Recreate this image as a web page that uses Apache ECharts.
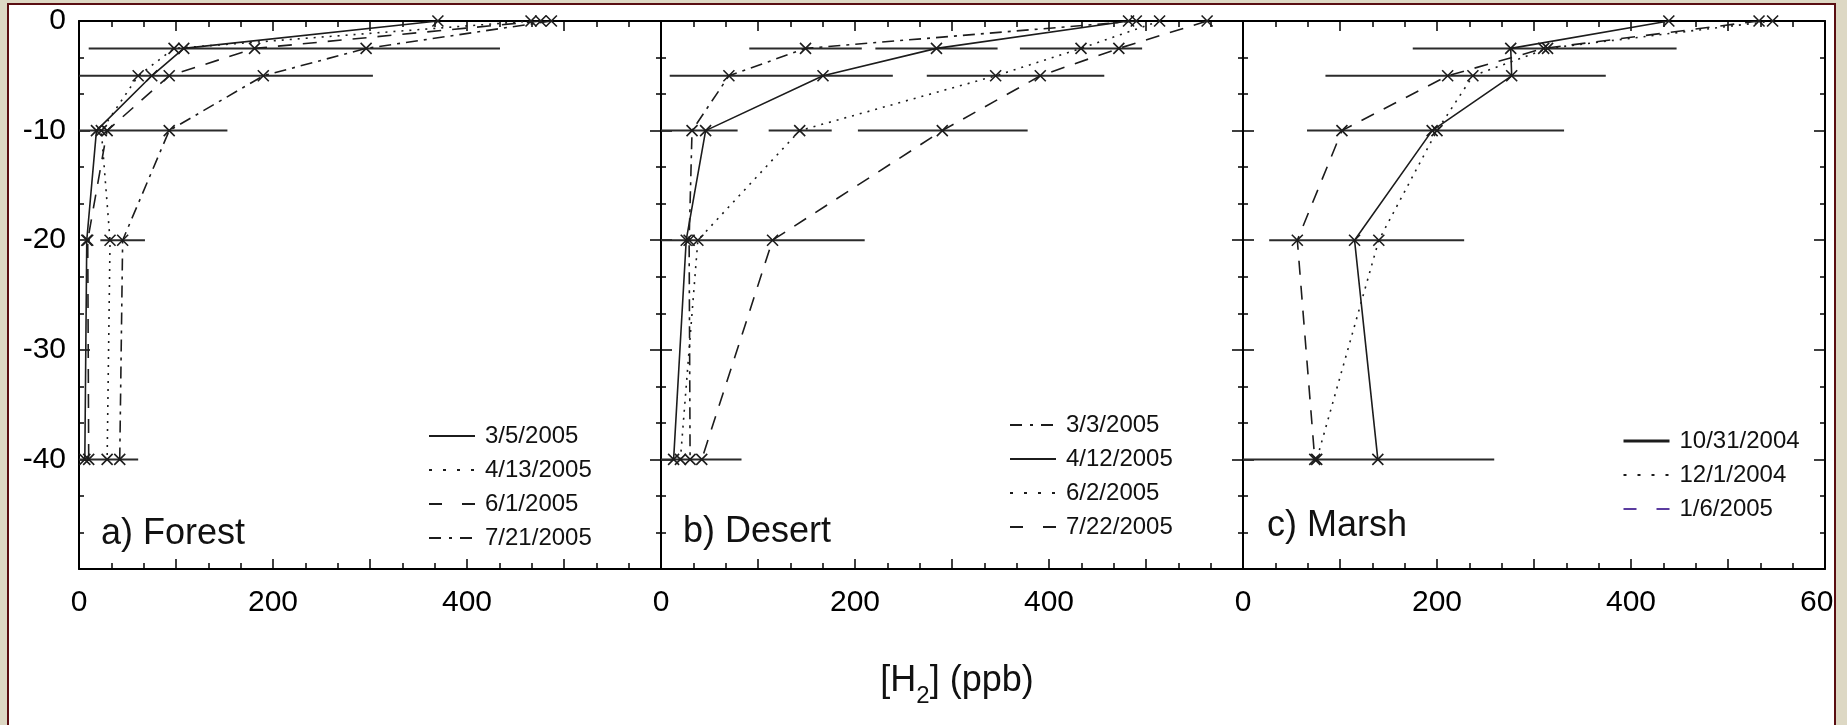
<!DOCTYPE html>
<html>
<head>
<meta charset="utf-8">
<script src="https://cdn.jsdelivr.net/npm/echarts@6/dist/echarts.min.js"></script>
<style>
  html, body { margin: 0; padding: 0; width: 1847px; height: 725px; overflow: hidden; background: #ddd8c4; }
  #paper { position: absolute; left: 7px; top: 3px; width: 1825px; height: 730px; background: #fff;
           border: 2px solid #5a0e12; border-bottom: none; overflow: hidden; }
  #chart { position: absolute; left: -9px; top: -5px; width: 1847px; height: 725px; }
</style>
</head>
<body>
<div id="paper"><div id="chart"></div></div>
<script>
// depth below surface (cm), shared by every profile
const depths = [0, -2.5, -5, -10, -20, -40];

// a) Forest
const forestDates = ['3/5/2005', '4/13/2005', '6/1/2005', '7/21/2005'];
const forest_0305 = [370, 108, 75, 18, 8, 6];
const forest_0413 = [466, 98, 61, 23, 32, 29];
const forest_0601 = [476, 181, 93, 29, 9, 10];
const forest_0721 = [487, 296, 190, 93, 45, 42];
// error bars: [depth, low, high]
const forestBars = [[-2.5, 10, 434], [-5, 0, 303], [-10, 0, 153], [-20, 22, 68], [-40, 0, 61]];

// b) Desert
const desertDates = ['3/3/2005', '4/12/2005', '6/2/2005', '7/22/2005'];
const desert_0303 = [490, 149, 70, 32, 29, 30];
const desert_0412 = [482, 284, 167, 46, 26, 13];
const desert_0602 = [514, 433, 345, 143, 38, 20];
const desert_0722 = [563, 472, 391, 290, 115, 42];
const desertBars = [[-2.5, 91, 207], [-2.5, 221, 347], [-2.5, 370, 496], [-5, 9, 239], [-5, 274, 457],
                    [-10, 0, 79], [-10, 111, 176], [-10, 203, 378], [-20, 0, 210], [-40, 0, 83]];

// c) Marsh
const marshDates = ['10/31/2004', '12/1/2004', '1/6/2005'];
const marsh_1031 = [439, 276, 277, 195, 115, 139];
const marsh_1201 = [546, 314, 237, 200, 140, 76];
const marsh_0106 = [532, 310, 211, 102, 56, 74];
const marshBars = [[-2.5, 175, 447], [-5, 85, 374], [-10, 66, 331], [-20, 27, 228], [-40, 0, 259]];

const INK = '#1c1c1c';
const FONT = '"Liberation Sans", Arial, Helvetica, sans-serif';
const SOLID = 'solid', DOT = [2, 6], DASH = [14, 11], DASHDOT = [12, 6, 3, 6];
const LEG = { solid: 'solid', dot: [3, 11], dash: [13, 20], dashdot: [12, 8, 3, 8] };
const MARK = 'path://M0,0L10,10M10,0L0,10';

const panels = [
  { dates: forestDates, values: [forest_0305, forest_0413, forest_0601, forest_0721],
    dash: [SOLID, DOT, DASH, DASHDOT], leg: ['solid', 'dot', 'dash', 'dashdot'], bars: forestBars,
    left: 79, title: 'a) Forest', titlePos: [101, 516], legendPos: [428, 424] },
  { dates: desertDates, values: [desert_0303, desert_0412, desert_0602, desert_0722],
    dash: [DASHDOT, SOLID, DOT, DASH], leg: ['dashdot', 'solid', 'dot', 'dash'], bars: desertBars,
    left: 661, title: 'b) Desert', titlePos: [683, 514], legendPos: [1009, 413] },
  { dates: marshDates, values: [marsh_1031, marsh_1201, marsh_0106],
    dash: [SOLID, DOT, DASH], leg: ['solid', 'dot', 'dash'], bars: marshBars,
    left: 1243, title: 'c) Marsh', titlePos: [1267, 508], legendPos: [1622, 429] }
];

const grid = [], xAxis = [], yAxis = [], series = [], legend = [], title = [];

function tickCfg(len) {
  return { show: true, inside: true, length: len, lineStyle: { color: '#000', width: 1.5 } };
}

panels.forEach(function (p, g) {
  grid.push({ left: p.left, top: 21, width: 582, height: 548, containLabel: false, outerBoundsMode: 'none' });

  ['bottom', 'top'].forEach(function (pos) {
    xAxis.push({
      type: 'value', gridIndex: g, position: pos, min: 0, max: 600, interval: 100,
      axisLine: { show: true, onZero: false, lineStyle: { color: '#000', width: 2 } },
      axisTick: tickCfg(10),
      minorTick: { show: true, splitNumber: 3, length: 6, lineStyle: { color: '#000', width: 1.5 } },
      splitLine: { show: false }, minorSplitLine: { show: false },
      axisLabel: {
        show: pos === 'bottom', fontSize: 30, color: '#000', fontFamily: FONT, margin: 19,
        formatter: function (v) {
          if (v % 200 !== 0) return '';
          if (v === 600 && g < 2) return '';
          return String(v);
        }
      }
    });
  });

  ['left', 'right'].forEach(function (pos) {
    yAxis.push({
      type: 'value', gridIndex: g, position: pos, min: -50, max: 0, interval: 10,
      axisLine: { show: true, onZero: false, lineStyle: { color: '#000', width: 2 } },
      axisTick: tickCfg(11),
      minorTick: { show: true, splitNumber: 3, length: 5, lineStyle: { color: '#000', width: 1.5 } },
      splitLine: { show: false }, minorSplitLine: { show: false },
      axisLabel: {
        show: g === 0 && pos === 'left', fontSize: 30, color: '#000', fontFamily: FONT,
        margin: 13, padding: [12, 0, 0, 0],
        formatter: function (v) { return v === -50 ? '' : String(v); }
      }
    });
  });

  // error bars
  series.push({
    type: 'custom', xAxisIndex: g * 2, yAxisIndex: g * 2, silent: true, z: 2,
    data: p.bars.map(function (b) { return [b[1], b[2], b[0]]; }),
    encode: { x: [0, 1], y: 2 },
    renderItem: function (params, api) {
      const a = api.coord([api.value(0), api.value(2)]);
      const b = api.coord([api.value(1), api.value(2)]);
      return { type: 'line', shape: { x1: a[0], y1: a[1], x2: b[0], y2: b[1] },
               style: { stroke: '#2b2b2b', lineWidth: 2 } };
    }
  });

  // profiles
  p.dates.forEach(function (d, i) {
    series.push({
      type: 'line', name: d, xAxisIndex: g * 2, yAxisIndex: g * 2, z: 3,
      data: p.values[i].map(function (v, k) { return [v, depths[k]]; }),
      symbol: MARK, symbolSize: 11, showSymbol: true,
      itemStyle: { color: 'none', borderColor: INK, borderWidth: 1.6 },
      lineStyle: { color: INK, width: 1.6, type: p.dash[i] },
      emphasis: { disabled: true }
    });
  });

  legend.push({
    orient: 'vertical', left: p.legendPos[0], top: p.legendPos[1], padding: 0,
    itemWidth: 46, itemHeight: 14, itemGap: 10, selectedMode: false,
    itemStyle: { opacity: 0 },
    lineStyle: { width: 2, color: INK },
    textStyle: { fontSize: 24, color: '#111', fontFamily: FONT, padding: [0, 0, 0, 5] },
    data: p.dates.map(function (d, i) {
      const item = { name: d, lineStyle: { type: LEG[p.leg[i]] } };
      if (g === 2 && i === 0) item.lineStyle.width = 3;
      if (g === 2 && i === 2) item.lineStyle.color = '#5b3c9f';
      return item;
    })
  });

  title.push({
    text: p.title, left: p.titlePos[0], top: p.titlePos[1], padding: 0,
    textStyle: { fontSize: 36, fontWeight: 'normal', color: '#111', fontFamily: FONT }
  });
});

const chart = echarts.init(document.getElementById('chart'), null, { renderer: 'canvas' });
chart.setOption({
  animation: false,
  backgroundColor: 'transparent',
  grid: grid, xAxis: xAxis, yAxis: yAxis, series: series, legend: legend, title: title,
  graphic: [{
    type: 'text', x: 957, y: 690,
    style: {
      text: '{n|[H}{s|2}{n|] (ppb)}', align: 'center', verticalAlign: 'middle',
      rich: {
        n: { fontSize: 36, fontFamily: FONT, fill: '#111', lineHeight: 36, verticalAlign: 'bottom', padding: [0, 0, 9, 0] },
        s: { fontSize: 24, fontFamily: FONT, fill: '#111', lineHeight: 24, verticalAlign: 'bottom' }
      }
    }
  }]
});
</script>
</body>
</html>
